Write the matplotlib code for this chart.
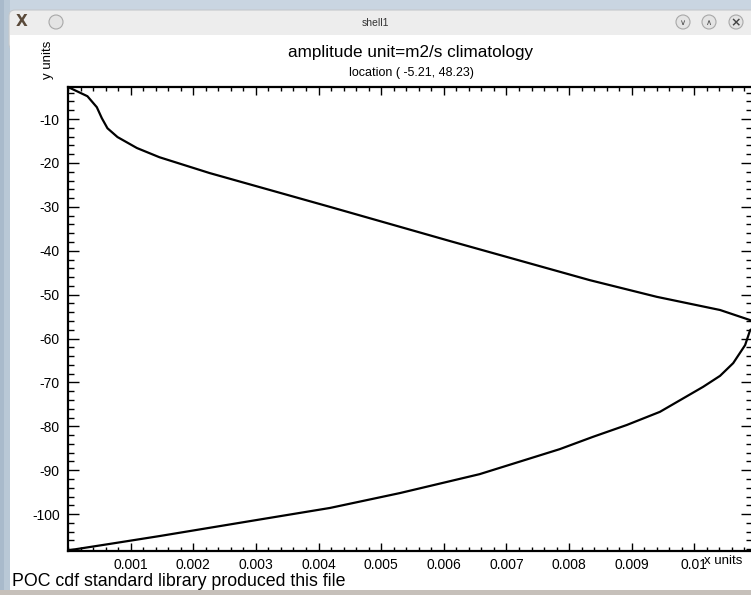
import matplotlib
matplotlib.use("Agg")
import matplotlib.pyplot as plt
from matplotlib.patches import Rectangle, FancyBboxPatch, Circle
from matplotlib.ticker import MultipleLocator

# ---- data ----
depth = [-2.7, -4.8, -7.3, -9.8, -12.1, -14.1, -16.6, -18.7, -22.3,
         -30.0, -37.8, -46.7, -50.5, -53.5, -55.8, -57.0,
         -58.1, -61.5, -65.6, -68.5, -71.0, -76.7, -79.7, -82.4, -85.2,
         -90.9, -95.2, -98.6, -101.3, -105.0, -106.8, -108.2]
amplitude = [0.00000, 0.00031, 0.00046, 0.00054, 0.00063, 0.00079, 0.00110,
             0.00146, 0.00226, 0.00418, 0.00610, 0.00833, 0.00940, 0.01041,
             0.01089, 0.01100, 0.01089, 0.01081, 0.01062, 0.01041, 0.01014,
             0.00945, 0.00892, 0.00838, 0.00785, 0.00657, 0.00530, 0.00418,
             0.00303, 0.00146, 0.00066, 0.00003]
xticks = [0.001, 0.002, 0.003, 0.004, 0.005, 0.006, 0.007, 0.008, 0.009, 0.01]
xtick_labels = ["0.001", "0.002", "0.003", "0.004", "0.005", "0.006",
                "0.007", "0.008", "0.009", "0.01"]
yticks = [-10, -20, -30, -40, -50, -60, -70, -80, -90, -100]
title = "amplitude unit=m2/s climatology"
subtitle = "location ( -5.21, 48.23)"
footer = "POC cdf standard library produced this file"

W, H = 751, 595
plt.rcParams['font.family'] = ['Liberation Sans', 'DejaVu Sans']
plt.rcParams['axes.unicode_minus'] = False
fig = plt.figure(figsize=(W / 100, H / 100), dpi=100)
fig.patch.set_facecolor('white')

def fx(px):
    return px / W

def fy(py):
    return 1 - py / H

# ---- window chrome ----
bg = fig.add_axes([0, 0, 1, 1], zorder=-10)
bg.set_axis_off()
bg.set_xlim(0, W)
bg.set_ylim(H, 0)
bg.add_patch(Rectangle((0, 0), W, 12, color='#c9d5e1', lw=0))
bg.add_patch(Rectangle((0, 0), 10, H, color='#b9c8d6', lw=0))
bg.add_patch(Rectangle((0, 0), 4, H, color='#a9bacb', lw=0))
bg.add_patch(FancyBboxPatch((9, 10), W, 40, boxstyle="round,pad=0,rounding_size=6",
                            fc='#ededed', ec='#c4c8cc', lw=0.8))
bg.add_patch(Rectangle((10, 35), W, H - 35, color='white', lw=0))
bg.add_patch(Rectangle((0, 590), W, 5, color='#c6c0ba', lw=0))
bg.text(375, 23, "shell1", ha='center', va='center', fontsize=7.5, color='#333333')
for cx in [683, 709, 736]:
    bg.add_patch(Circle((cx, 22), 7, fc='#e4e4e4', ec='#a8a8a8', lw=0.8))
bg.text(683, 22.5, "\u2228", ha='center', va='center', fontsize=6, color='#444444',
        family='DejaVu Sans')
bg.text(709, 22.5, "\u2227", ha='center', va='center', fontsize=6, color='#444444',
        family='DejaVu Sans')
bg.text(736, 22.5, "\u00d7", ha='center', va='center', fontsize=9, color='#444444',
        family='DejaVu Sans', fontweight='bold')
bg.add_patch(Circle((56, 22), 7, fc='#e4e4e4', ec='#a8a8a8', lw=0.8))
bg.text(22, 22, "X", ha='center', va='center', fontsize=11, color='#5a4a3a',
        fontweight='bold', family='DejaVu Sans')

# ---- plot axes ----
left_px, right_px, top_px, bot_px = 68, 752, 87, 551
ax = fig.add_axes([fx(left_px), fy(bot_px), fx(right_px - left_px), (bot_px - top_px) / H])
ax.plot(amplitude, depth, color='black', lw=1.6)
ax.set_xlim(0, 0.01092)
ax.set_ylim(-108.4, -2.7)
ax.set_xticks(xticks)
ax.set_xticklabels(xtick_labels)
ax.set_yticks(yticks)
ax.xaxis.set_minor_locator(MultipleLocator(0.0002))
ax.yaxis.set_minor_locator(MultipleLocator(2))
for s in ax.spines.values():
    s.set_linewidth(1.6)
ax.tick_params(axis='x', which='major', direction='in', length=6, width=1.0,
               top=True, bottom=True, labelsize=10, pad=5)
ax.tick_params(axis='x', which='minor', direction='in', length=3, width=1.0,
               top=True, bottom=True)
ax.tick_params(axis='y', which='major', direction='in', length=8, width=1.0,
               left=True, right=True, labelsize=10, pad=6)
ax.tick_params(axis='y', which='minor', direction='in', length=4, width=1.0,
               left=True, right=True)

fig.text(fx(411), fy(53), title, ha='center', va='center', fontsize=12.3)
fig.text(fx(411), fy(73), subtitle, ha='center', va='center', fontsize=9)
fig.text(fx(48), fy(60), "y units", ha='center', va='center', rotation=90, fontsize=9.5)
fig.text(fx(704), fy(561), "x units", ha='left', va='center', fontsize=9.5)
fig.text(fx(12), fy(582), footer, ha='left', va='center', fontsize=12.8)

fig.savefig("out.png", dpi=100)
